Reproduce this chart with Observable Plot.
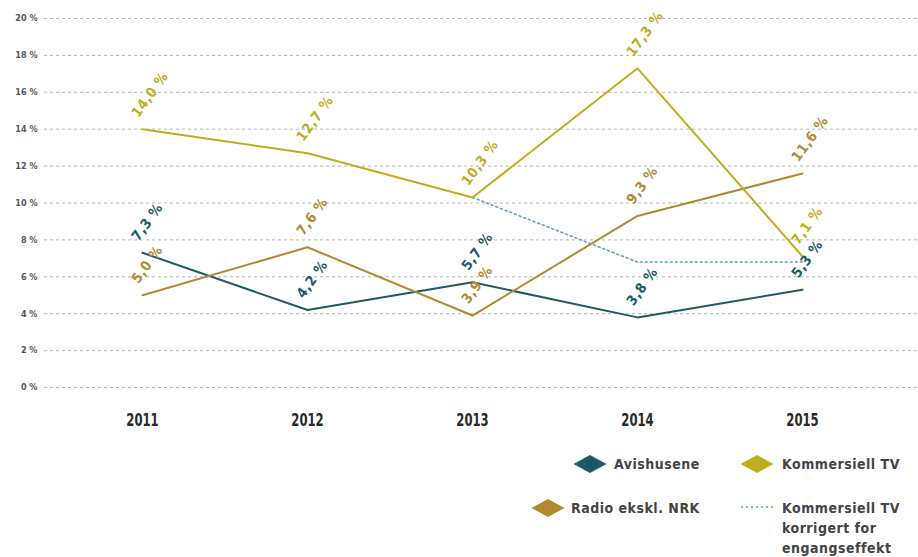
<!DOCTYPE html>
<html>
<head>
<meta charset="utf-8">
<script src="https://cdn.jsdelivr.net/npm/d3@7"></script>
<script src="https://cdn.jsdelivr.net/npm/@observablehq/plot@0.6"></script>
<style>
  body { margin: 0; background: #fff; width: 918px; height: 557px; position: relative; overflow: hidden; }
  #chart { position: absolute; left: 0; top: 0; }
  .leg { position: absolute; font-family: "DejaVu Sans Condensed", "DejaVu Sans", sans-serif; font-weight: bold; font-size: 14px; color: #444; letter-spacing: 0.5px; line-height: 20px; }
  .sw { position: absolute; }
</style>
</head>
<body>
<div id="chart"></div>
<script>
const years = ["2011", "2012", "2013", "2014", "2015"];
const avishusene = [7.3, 4.2, 5.7, 3.8, 5.3];
const kommersiellTV = [14.0, 12.7, 10.3, 17.3, 7.1];
const radio = [5.0, 7.6, 3.9, 9.3, 11.6];
const korrigertYears = ["2013", "2014", "2015"];
const korrigert = [10.3, 6.8, 6.8];
const yTicks = [0, 2, 4, 6, 8, 10, 12, 14, 16, 18, 20];

const colors = {
  "Avishusene": "#1c5a66",
  "Kommersiell TV": "#bfae1c",
  "Radio ekskl. NRK": "#b08a32",
  "Korrigert": "#5ea9b0"
};

const seriesList = [
  ["Avishusene", avishusene],
  ["Radio ekskl. NRK", radio],
  ["Kommersiell TV", kommersiellTV]
];
const rows = seriesList.flatMap(([name, vals]) => years.map((y, i) => ({series: name, year: y, value: vals[i]})));
const corrRows = korrigertYears.map((y, i) => ({year: y, value: korrigert[i]}));
const fmt = v => v.toFixed(1).replace(".", ",") + " %";
const font = "'DejaVu Sans Condensed', 'DejaVu Sans', sans-serif";

const chart = Plot.plot({
  width: 918,
  height: 440,
  marginTop: 18,
  marginBottom: 53,
  marginLeft: 44,
  marginRight: 0,
  style: {fontFamily: font, background: "white"},
  x: {type: "point", domain: years, range: [142, 802], padding: 0, label: null},
  y: {domain: [0, 20], label: null},
  marks: [
    Plot.gridY(yTicks, {stroke: "#b5b5b5", strokeOpacity: 1, strokeDasharray: "3,3", strokeWidth: 1}),
    Plot.axisY(yTicks, {tickSize: 0, tickPadding: 7, tickFormat: d => d + " %", fontSize: 9, fontWeight: "bold", fill: "#555", label: null}),
    Plot.axisX({tickSize: 0, tickPadding: 26, fontSize: 18, fontWeight: "bold", fill: "#2a2a2a", label: null}),
    Plot.line(corrRows, {x: "year", y: "value", stroke: colors["Korrigert"], strokeWidth: 1.6, strokeDasharray: "2,3"}),
    Plot.line(rows, {x: "year", y: "value", z: "series", stroke: d => colors[d.series], strokeWidth: 2}),
    Plot.text(rows, {x: "year", y: "value", text: d => fmt(d.value), fill: d => colors[d.series],
      rotate: -54, textAnchor: "start", lineAnchor: "bottom", dx: -4, dy: -11, fontSize: 14, fontWeight: "bold"})
  ]
});
document.getElementById("chart").appendChild(chart);
// condense the year labels horizontally to match the narrow typeface of the original
d3.select(chart).selectAll('g[aria-label="x-axis tick label"] text').each(function() {
  const t = this.getAttribute("transform") || "";
  this.setAttribute("transform", t + " scale(0.72,1)");
});
d3.select(chart).selectAll('text').filter(function() { return this.parentNode.getAttribute("aria-label") === "text"; })
  .style("letter-spacing", "0.6px");

// Legend
const legendItems = [
  {label: "Avishusene", type: "diamond", color: colors["Avishusene"], sx: 590, sy: 464, tx: 614, ty: 454},
  {label: "Kommersiell TV", type: "diamond", color: colors["Kommersiell TV"], sx: 757, sy: 464, tx: 782, ty: 454},
  {label: "Radio ekskl. NRK", type: "diamond", color: colors["Radio ekskl. NRK"], sx: 548, sy: 508, tx: 571, ty: 498},
  {label: "Kommersiell TV<br>korrigert for<br>engangseffekt", type: "dash", color: colors["Korrigert"], sx: 757, sy: 507, tx: 782, ty: 498}
];
for (const it of legendItems) {
  const sw = document.createElementNS("http://www.w3.org/2000/svg", "svg");
  sw.setAttribute("width", 36); sw.setAttribute("height", 22);
  sw.setAttribute("class", "sw");
  sw.style.left = (it.sx - 18) + "px"; sw.style.top = (it.sy - 11) + "px";
  if (it.type === "diamond") {
    sw.innerHTML = `<polygon points="1.5,11 18,2 34.5,11 18,20" fill="${it.color}"/>`;
  } else {
    sw.innerHTML = `<line x1="2" x2="34" y1="11" y2="11" stroke="${it.color}" stroke-width="1.6" stroke-dasharray="2,3"/>`;
  }
  document.body.appendChild(sw);
  const t = document.createElement("div");
  t.className = "leg";
  t.style.left = it.tx + "px"; t.style.top = it.ty + "px";
  t.innerHTML = it.label;
  document.body.appendChild(t);
}
</script>
</body>
</html>
